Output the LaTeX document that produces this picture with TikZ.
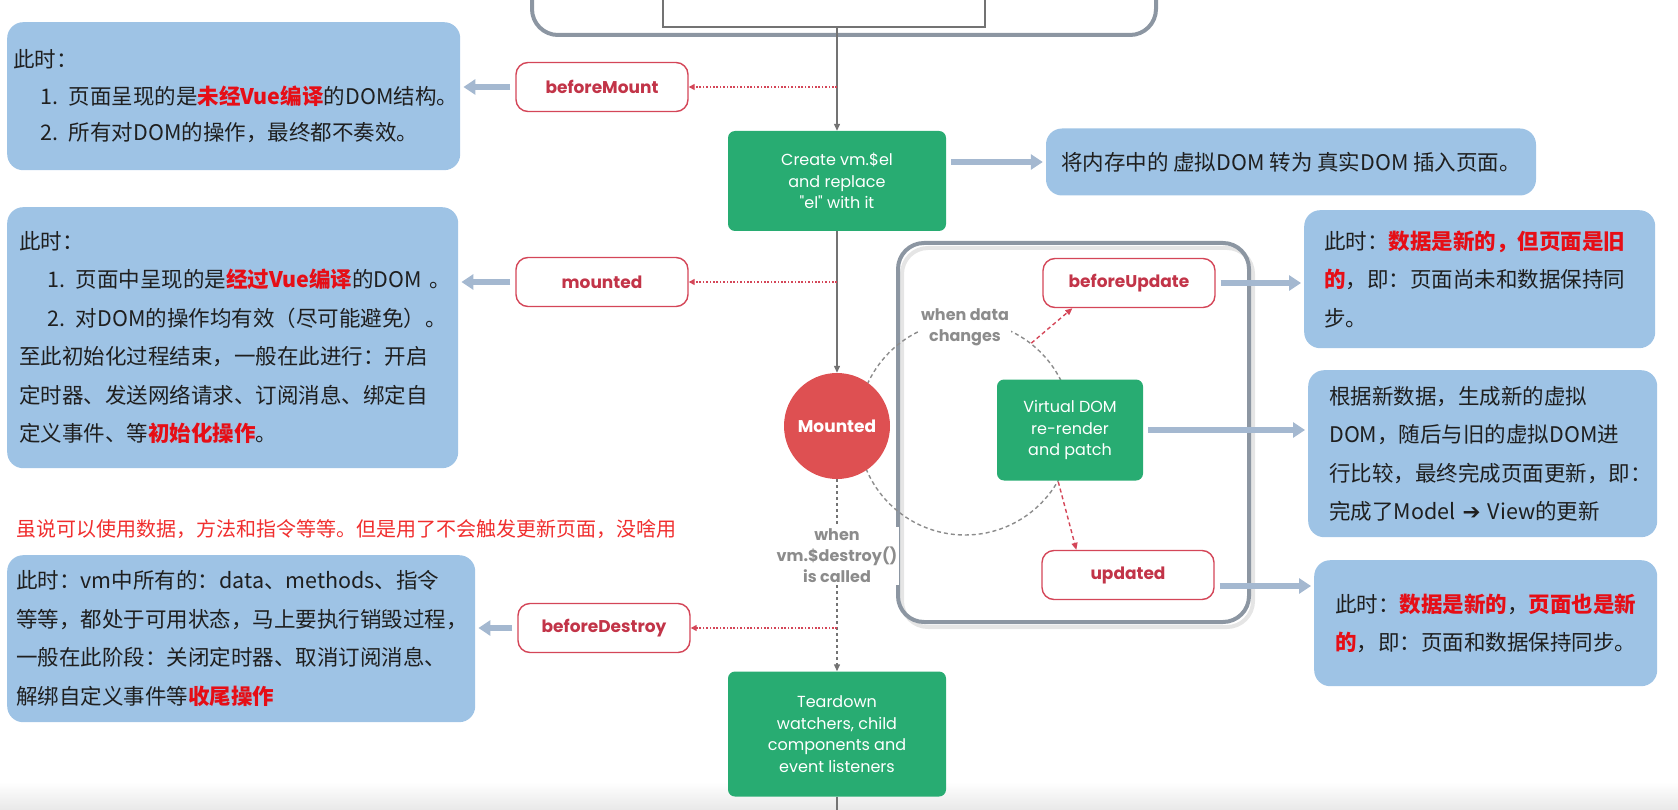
\documentclass[tikz,border=0pt]{standalone}
\usepackage{fontspec}
\setmainfont{Noto Sans CJK SC}
\newfontfamily\vuefont{Poppins}
\newfontfamily\arrowfont{DejaVu Sans}
\usetikzlibrary{arrows.meta}

\definecolor{noteblue}{RGB}{158,195,229}
\definecolor{vuegreen}{RGB}{40,172,114}
\definecolor{hookred}{RGB}{212,70,88}
\definecolor{hooktext}{RGB}{194,52,72}
\definecolor{mountred}{RGB}{222,80,82}
\definecolor{arrowgray}{RGB}{164,184,208}
\definecolor{framegray}{RGB}{140,150,162}
\definecolor{flowgray}{RGB}{115,115,115}
\definecolor{cuegray}{RGB}{140,140,140}
\definecolor{hilite}{RGB}{230,14,22}
\definecolor{remark}{RGB}{240,46,46}

\newcommand{\redbf}[1]{{\color{hilite}\bfseries #1}}

\tikzset{
  note/.style={fill=noteblue, rounded corners=16pt, align=left, text=black!88,
    font=\fontsize{21.5}{38.5}\selectfont},
  hook/.style={draw=hookred, line width=1.4pt, fill=white, rounded corners=12pt,
    minimum width=172pt, minimum height=49pt, text=hooktext,
    font=\vuefont\bfseries\fontsize{17}{20}\selectfont},
  stage/.style={fill=vuegreen, rounded corners=7pt, text=white, align=center,
    font=\vuefont\fontsize{16}{21.5}\selectfont},
  cue/.style={fill=white, inner sep=2pt, text=cuegray, align=center,
    font=\vuefont\bfseries\fontsize{16}{21}\selectfont},
  frame/.style={draw=framegray, line width=4pt, rounded corners=26pt},
  fat/.style={arrowgray, line width=6pt, -{Triangle[length=12pt,width=15pt]},
    shorten <=5pt, shorten >=3pt},
  flow/.style={flowgray, line width=1.3pt, -{Triangle[length=7pt,width=6pt]}},
  cueline/.style={flowgray, line width=1.3pt, dash pattern=on 3pt off 3pt},
  hookline/.style={hookred, line width=1.4pt, dash pattern=on 1.6pt off 1.8pt,
    -{Triangle[length=6pt,width=6pt]}},
  loopline/.style={hookred, line width=1.4pt, dash pattern=on 4pt off 3pt,
    -{Triangle[length=7pt,width=6pt]}},
}

\begin{document}
\begin{tikzpicture}[x=1pt,y=-1pt]
\useasboundingbox (0,0) rectangle (1678,810);
\clip (0,0) rectangle (1678,810);
\shade[top color=white, bottom color=black!9] (0,782) rectangle (1678,810);

% new Vue() box at the top
\node[frame, minimum width=624pt, minimum height=130pt] (vmbox) at (844,-30) {};
\node[draw=flowgray, line width=1.2pt, fill=white, minimum width=322pt,
  minimum height=60pt] (tmpl) at (824,-3) {};

% update cycle
\draw[black!10, line width=4pt, rounded corners=26pt] (902,248) rectangle (1253,627);
\draw[frame] (898,243) rectangle (1249,622);
\node[draw=cuegray, line width=1.4pt, dash pattern=on 4pt off 3pt, circle,
  minimum size=214pt] (loop) at (965,428) {};

% notes
\node[note, anchor=north west, text width=441pt, inner xsep=6pt, minimum height=148pt,
  font=\fontsize{21.5}{36.5}\selectfont] (note1) at (7,22) {
此时：\\
\hspace*{27pt}1. 页面呈现的是\redbf{未经Vue编译}的DOM结构。\\
\hspace*{27pt}2. 所有对DOM的操作，最终都不奏效。};
\node[note, anchor=north west, text width=427pt, inner xsep=12pt, minimum height=261pt]
  (note2) at (7,207) {
此时：\\
\hspace*{28pt}1. 页面中呈现的是\redbf{经过Vue编译}的DOM~。\\
\hspace*{28pt}2. 对DOM的操作均有效（尽可能避免）。\\
至此初始化过程结束，一般在此进行：开启\\
定时器、发送网络请求、订阅消息、绑定自\\
定义事件、等\redbf{初始化操作}。};
\node[note, anchor=north west, text width=450pt, inner xsep=9pt, minimum height=167pt]
  (note3) at (7,555) {
此时：vm中所有的：data、methods、指令\\
等等，都处于可用状态，马上要执行销毁过程，\\
一般在此阶段：关闭定时器、取消订阅消息、\\
解绑自定义事件等\redbf{收尾操作}};
\node[note, minimum width=490pt, minimum height=67pt] (dom) at (1291,162) {
将内存中的 虚拟DOM 转为 真实DOM 插入页面。};
\node[note, anchor=north west, text width=311pt, inner xsep=20pt, minimum height=138pt]
  (r1) at (1304,210) {
此时：\redbf{数据是新的，但页面是旧}\\
\redbf{的}，即：页面尚未和数据保持同\\
步。};
\node[note, anchor=north west, text width=307pt, inner xsep=21pt, minimum height=167pt]
  (r2) at (1308,370) {
根据新数据，生成新的虚拟\\
DOM，随后与旧的虚拟DOM进\\
行比较，最终完成页面更新，即：\\
完成了Model {\arrowfont ➔} View的更新};
\node[note, anchor=north west, text width=301pt, inner xsep=21pt, minimum height=126pt]
  (r3) at (1314,560) {
此时：\redbf{数据是新的}，\redbf{页面也是新}\\
\redbf{的}，即：页面和数据保持同步。};

\node[anchor=west, inner sep=0pt, text=remark, font=\fontsize{20}{24}\selectfont]
  (remark) at (16,529) {虽说可以使用数据，方法和指令等等。但是用了不会触发更新页面，没啥用};

% stages
\node[stage, minimum width=218pt, minimum height=100pt] (create) at (837,181)
  {Create vm.\$el\\and replace\\"el" with it};
\node[circle, fill=mountred, minimum size=106pt, text=white,
  font=\vuefont\bfseries\fontsize{17}{20}\selectfont] (mount) at (837,426) {Mounted};
\node[stage, minimum width=146pt, minimum height=101pt] (vdom) at (1070,430)
  {Virtual DOM\\re-render\\and patch};
\node[stage, minimum width=218pt, minimum height=125pt] (teardown) at (837,734)
  {Teardown\\watchers, child\\components and\\event listeners};

% hooks
\node[hook] (bm) at (602,87) {beforeMount};
\node[hook] (mtd) at (602,282) {mounted};
\node[hook] (bd) at (604,628) {beforeDestroy};
\node[hook] (bu) at (1129,283) {beforeUpdate};
\node[hook] (upd) at (1128,575) {updated};

\node[cue] (change) at (965,327) {when data\\changes};
\node[cue] (destroy) at (837,556) {when\\vm.\$destroy()\\is called};

% main flow
\coordinate (pageend) at (837,810);
\draw[flow] (tmpl.south -| create) -- (create);
\draw[flow] (create) -- (mount);
\draw[cueline] (mount) -- (destroy);
\draw[cueline, -{Triangle[length=7pt,width=6pt]}] (destroy) -- (teardown);
\draw[flowgray, line width=1.3pt] (teardown) -- (pageend);

\draw[hookline] (create |- bm) -- (bm);
\draw[hookline] (create |- mtd) -- (mtd);
\draw[hookline] (create |- bd) -- (bd);
\draw[loopline] (loop.52) -- (bu.204);
\draw[loopline] (loop.-30) -- (upd.154);

% fat arrows to the notes
\coordinate (updout) at ([yshift=-11pt]upd.east);
\draw[fat] (bm) -- (bm -| note1.east);
\draw[fat] (mtd) -- (mtd -| note2.east);
\draw[fat] (bd) -- (bd -| note3.east);
\draw[fat] (create.east |- dom.west) -- (dom.west);
\draw[fat] (bu) -- (bu -| r1.west);
\draw[fat] (vdom) -- (vdom -| r2.west);
\draw[fat] (updout) -- (updout -| r3.west);
\end{tikzpicture}
\end{document}
